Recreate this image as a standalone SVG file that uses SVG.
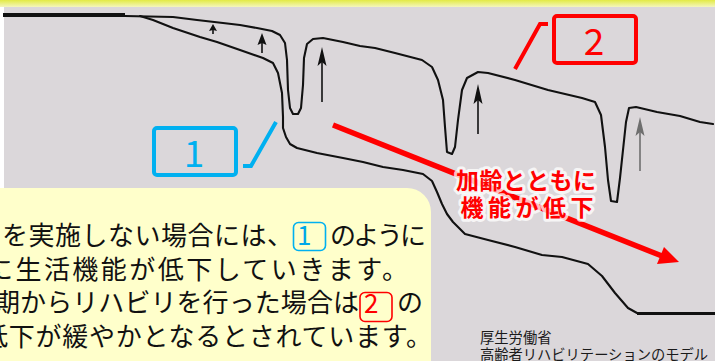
<svg xmlns="http://www.w3.org/2000/svg" width="715" height="361" viewBox="0 0 715 361">
<style>
.jp{font-family:"Noto Sans CJK JP","Noto Sans",sans-serif;}
.curve{fill:none;stroke:#111;stroke-width:2.1;stroke-linejoin:round;stroke-linecap:round;}
.up{stroke:#111;stroke-width:1.6;fill:none;}
.head{fill:#111;}
.body{font-size:26px;fill:#111;}
.src{font-size:14.3px;fill:#1a1a1a;}
.red{fill:#ff0000;font-size:23px;font-weight:bold;stroke:#ffffff;stroke-opacity:0.75;stroke-width:6;stroke-linejoin:round;paint-order:stroke;}
</style>
<defs>
<linearGradient id="topband" x1="0" y1="0" x2="0" y2="1">
<stop offset="0" stop-color="#e2ea45"/>
<stop offset="1" stop-color="#f4f6bd"/>
</linearGradient>
</defs>

<g id="background">
<rect x="0" y="0" width="715" height="361" fill="#ffffff"/>
<rect x="4" y="6" width="711" height="355" fill="#dbd7da"/>
<rect x="0" y="0" width="715" height="7" fill="url(#topband)"/>
</g>

<g id="graph">
<path d="M3,15 L125,15" stroke="#111" stroke-width="4" fill="none"/>
<path class="curve" d="M125,16 L173,17 L197,20 L223,23 L240,25 L257,28 L272,31 L280,35 L285,43 L287,60 L288,90 L290,108 L293,114 L298,114 L301,108 L303,85 L304,58 L307,44 L313,39 L323,38 L343,42 L360,46 L375,48 L395,53 L422,60 L432,67 L438,80 L443,100 L445,127 L447,152 L452,154 L455,147 L458,120 L462,90 L467,78 L478,72 L488,73 L515,80 L548,90 L582,98 L595,102 L601,115 L605,147 L608,180 L611,201 L617,202 L620,178 L623,150 L626,122 L629,108 L636,107 L657,112 L680,116 L700,122 L713,124"/>
<path class="curve" d="M140,16 L153,20 L173,28 L200,37 L217,42 L240,50 L263,58 L273,63 L278,73 L282,93 L283,117 L283,128 L286,137 L290,144 L297,148 L317,153 L343,158 L363,162 L383,167 L403,170 L423,174 L432,181 L437,192 L442,204 L447,214 L453,222 L465,234 L488,240 L515,247 L542,255 L562,257 L588,264 L602,276 L615,293 L628,308 L637,313 L715,314"/>
<path d="M637,313.5 L715,313.5" stroke="#111" stroke-width="3" fill="none"/>
<g id="arrow-a"><line class="up" x1="213" y1="30" x2="213" y2="34"/><path class="head" d="M213,24 L217,31 L213,30 L209,31 Z"/></g>
<g id="arrow-b"><line class="up" x1="262" y1="42" x2="262" y2="53"/><path class="head" d="M262,33 L266.5,45 L262,43 L257.5,45 Z"/></g>
<g id="arrow-c"><line class="up" x1="322" y1="62" x2="322" y2="102"/><path class="head" d="M322,47 L326.5,66 L322,62 L317.5,66 Z"/></g>
<g id="arrow-d"><line class="up" x1="478" y1="100" x2="478" y2="134"/><path class="head" d="M478,84 L482.5,104 L478,100 L473.5,104 Z"/></g>
<g id="arrow-e"><line x1="640" y1="132" x2="640" y2="171" stroke="#6e6e6e" stroke-width="1.6"/><path d="M640,117 L644.5,136 L640,132 L635.5,136 Z" fill="#6e6e6e"/></g>
</g>

<g id="connectors">
<polyline points="243,166 251,166 276,122" fill="none" stroke="#00b0f0" stroke-width="4"/>
<polyline points="515,69 540,24 548,24" fill="none" stroke="#ff0000" stroke-width="4"/>
<line x1="333" y1="125" x2="662" y2="256" stroke="#ff0000" stroke-width="5.5"/>
<polygon points="679,262 664,247 657,264" fill="#ff0000"/>
</g>

<g id="label1">
<rect x="154" y="128" width="82" height="47" rx="3" fill="none" stroke="#00b0f0" stroke-width="4"/>
<text class="jp" x="194" y="167" font-size="37" fill="#00b0f0" text-anchor="middle">1</text>
</g>

<g id="label2">
<rect x="554" y="16" width="82" height="47" rx="3" fill="none" stroke="#ff0000" stroke-width="4"/>
<text class="jp" x="594" y="55" font-size="37" fill="#ff0000" text-anchor="middle">2</text>
</g>

<g id="decline-label">
<text class="jp red" x="526" y="189" text-anchor="middle" textLength="140" lengthAdjust="spacing">加齢とともに</text>
<text class="jp red" x="527" y="216" text-anchor="middle" textLength="133" lengthAdjust="spacing">機能が低下</text>
</g>

<g id="note">
<rect x="-30" y="188" width="461" height="200" rx="24" fill="#ffffcb"/>
<text class="jp body" x="2" y="245" textLength="291" lengthAdjust="spacing">を実施しない場合には、</text>
<rect x="293.5" y="222.5" width="32" height="28" rx="5" fill="none" stroke="#00b0f0" stroke-width="1.6"/>
<text class="jp" x="297" y="245" font-size="26" fill="#00a8e8">1</text>
<text class="jp body" x="330" y="245" textLength="96" lengthAdjust="spacing">のように</text>
<text class="jp body" x="-13" y="278.5" textLength="421" lengthAdjust="spacing">に生活機能が低下していきます。</text>
<text class="jp body" x="-6" y="312" textLength="365" lengthAdjust="spacing">期からリハビリを行った場合は</text>
<rect x="360" y="292.5" width="32" height="29" rx="5" fill="none" stroke="#ff0000" stroke-width="1.6"/>
<text class="jp" x="364" y="313" font-size="26" fill="#ff0000">2</text>
<text class="jp body" x="397" y="312">の</text>
<text class="jp body" x="-18" y="345.5" textLength="450" lengthAdjust="spacing">低下が緩やかとなるとされています。</text>
</g>

<g id="source">
<text class="jp src" x="480" y="343">厚生労働省</text>
<text class="jp src" x="480" y="360" textLength="228" lengthAdjust="spacing">高齢者リハビリテーションのモデル</text>
</g>
</svg>
